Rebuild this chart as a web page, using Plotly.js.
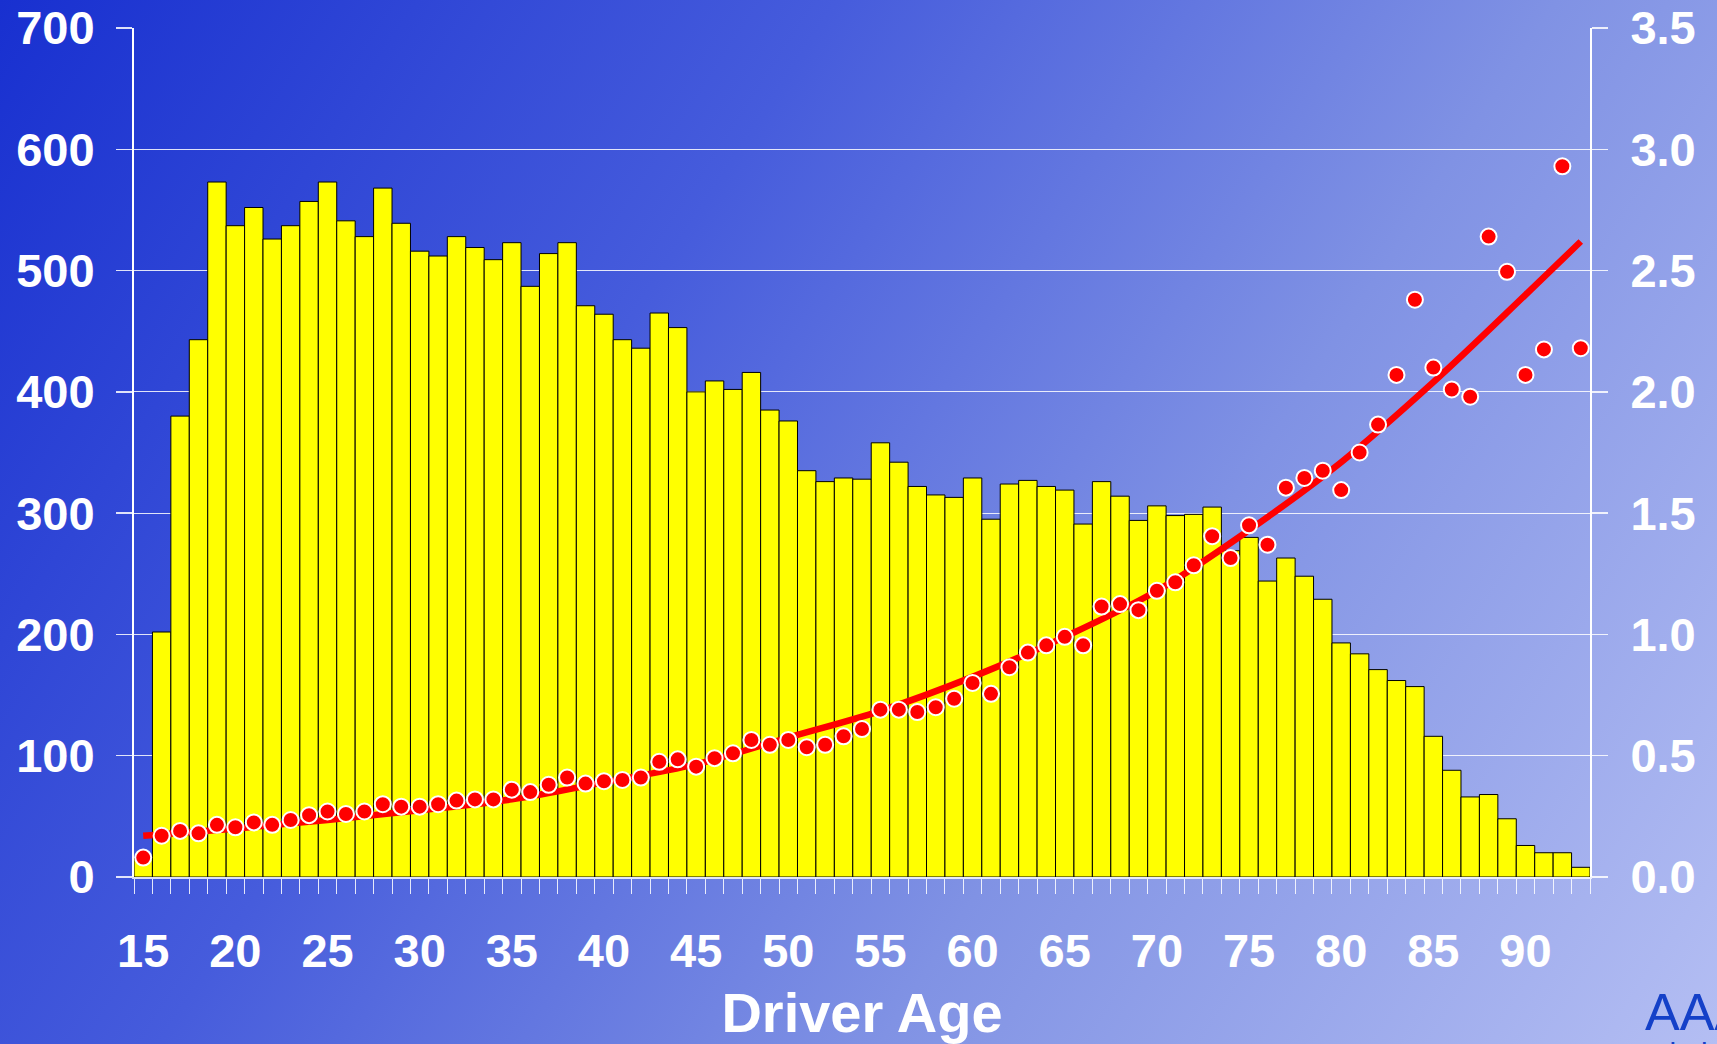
<!DOCTYPE html>
<html>
<head>
<meta charset="utf-8">
<script src="https://cdn.plot.ly/plotly-3.0.1.min.js"></script>
<style>
  html, body { margin: 0; padding: 0; }
  body {
    width: 1717px; height: 1044px; overflow: hidden;
    background: linear-gradient(123deg, rgb(24,48,208) 0%, rgb(70,92,220) 35%, rgb(128,146,228) 65%, rgb(180,190,243) 100%);
  }
  #chart { width: 1717px; height: 1044px; }
</style>
</head>
<body>
<div id="chart"></div>
<script>
// Driver age categories
const ages = [15,16,17,18,19,20,21,22,23,24,25,26,27,28,29,30,31,32,33,34,35,36,37,38,39,40,
  41,42,43,44,45,46,47,48,49,50,51,52,53,54,55,56,57,58,59,60,61,62,63,64,65,66,67,68,69,70,
  71,72,73,74,75,76,77,78,79,80,81,82,83,84,85,86,87,88,89,90,91,92,93];

// Bars (left axis)
const barValues = [15,202,380,443,573,537,552,526,537,557,573,541,528,568,539,516,512,528,519,509,
  523,487,514,523,471,464,443,436,465,453,400,409,402,416,385,376,335,326,329,328,358,342,322,315,
  313,329,295,324,327,322,319,291,326,314,294,306,298,299,305,269,280,244,263,248,229,193,184,171,
  162,157,116,88,66,68,48,26,20,20,8];

// Dots (right axis)
const dotValues = [0.08,0.17,0.19,0.18,0.215,0.205,0.225,0.215,0.235,0.255,0.27,0.26,0.27,0.30,0.29,
  0.29,0.30,0.315,0.32,0.32,0.36,0.35,0.38,0.41,0.385,0.395,0.40,0.41,0.475,0.485,0.455,0.49,0.51,
  0.565,0.545,0.565,0.535,0.545,0.58,0.61,0.69,0.69,0.68,0.70,0.735,0.80,0.755,0.865,0.925,0.955,
  0.99,0.955,1.115,1.125,1.10,1.18,1.215,1.285,1.405,1.315,1.45,1.37,1.605,1.645,1.675,1.595,1.75,
  1.865,2.07,2.38,2.10,2.01,1.98,2.64,2.495,2.07,2.175,2.93,2.18];

// Fitted trend line (right axis)
const trendAges = [15,20,25,30,35,40,45,50,55,60,65,70,75,80,85,90,93];
const trendValues = [0.17,0.20,0.235,0.275,0.32,0.39,0.465,0.575,0.685,0.825,0.99,1.18,1.43,1.71,2.04,2.40,2.62];

const leftTicks = [0,100,200,300,400,500,600,700];
const rightTicks = [0,0.5,1.0,1.5,2.0,2.5,3.0,3.5];
const xTickVals = [15,20,25,30,35,40,45,50,55,60,65,70,75,80,85,90];

const FONT = 'Liberation Sans, Arial, Helvetica, sans-serif';

const traces = [
  {
    type: 'bar', x: ages, y: barValues, yaxis: 'y',
    marker: { color: '#ffff00', line: { color: '#000000', width: 1 } },
    hoverinfo: 'skip'
  },
  {
    type: 'scatter', mode: 'lines', x: trendAges, y: trendValues, yaxis: 'y2',
    line: { color: '#ff0000', width: 6.5, shape: 'spline', smoothing: 1 },
    hoverinfo: 'skip'
  },
  {
    type: 'scatter', mode: 'markers', x: ages, y: dotValues, yaxis: 'y2',
    marker: { color: '#ff0000', size: 16, line: { color: '#ffffff', width: 2 } },
    hoverinfo: 'skip'
  }
];

const layout = {
  width: 1717, height: 1044,
  margin: { l: 134, r: 127, t: 28, b: 167 },
  paper_bgcolor: 'rgba(0,0,0,0)',
  plot_bgcolor: 'rgba(0,0,0,0)',
  showlegend: false,
  bargap: 0,
  font: { family: FONT, color: '#ffffff' },
  xaxis: {
    range: [14.5, 93.5],
    tickmode: 'array', tickvals: xTickVals, ticktext: xTickVals.map(String),
    ticks: '',
    ticklabelstandoff: 32,
    tickfont: { family: FONT, size: 47, color: '#ffffff', weight: 'bold' },
    showgrid: false, zeroline: false,
    showline: true, linecolor: 'rgba(255,255,255,0.8)', linewidth: 1.5,
    minor: { tick0: 14.5, dtick: 1, ticks: 'outside', ticklen: 15, tickcolor: 'rgba(255,255,255,0.85)', tickwidth: 1, showgrid: false },
    title: { text: 'Driver Age', font: { family: FONT, size: 56, color: '#ffffff', weight: 'bold' }, standoff: 34 }
  },
  yaxis: {
    range: [0, 700],
    tickmode: 'array', tickvals: leftTicks, ticktext: leftTicks.map(String),
    ticks: 'outside', ticklen: 16, tickcolor: 'rgba(255,255,255,0.85)', tickwidth: 1.5,
    ticklabelstandoff: 12,
    ticklabeloverflow: 'allow',
    tickfont: { family: FONT, size: 47, color: '#ffffff', weight: 'bold' },
    showgrid: true, gridcolor: 'rgba(255,255,255,0.85)', gridwidth: 1.2,
    zeroline: false,
    showline: true, linecolor: '#ffffff', linewidth: 2
  },
  yaxis2: {
    overlaying: 'y', side: 'right',
    range: [0, 3.5],
    tickmode: 'array', tickvals: rightTicks, ticktext: rightTicks.map(v => v.toFixed(1)),
    ticks: 'outside', ticklen: 16, tickcolor: 'rgba(255,255,255,0.85)', tickwidth: 1.5,
    ticklabelstandoff: 13,
    ticklabeloverflow: 'allow',
    tickfont: { family: FONT, size: 47, color: '#ffffff', weight: 'bold' },
    showgrid: false, zeroline: false,
    showline: true, linecolor: '#ffffff', linewidth: 2
  },
  annotations: [
    {
      xref: 'paper', yref: 'paper', x: 1.0364, y: -0.159, xanchor: 'left', yanchor: 'middle',
      text: 'AAA', showarrow: false,
      font: { family: FONT, size: 52, color: '#1440c8' }
    },
    {
      xref: 'paper', yref: 'paper', x: 0.9995, y: -0.186, xanchor: 'left', yanchor: 'top',
      text: 'Foundation for Traffic Safety', showarrow: false,
      font: { family: FONT, size: 30, color: '#1440c8' }
    }
  ]
};

Plotly.newPlot('chart', traces, layout, { staticPlot: true, displayModeBar: false });
</script>
</body>
</html>
